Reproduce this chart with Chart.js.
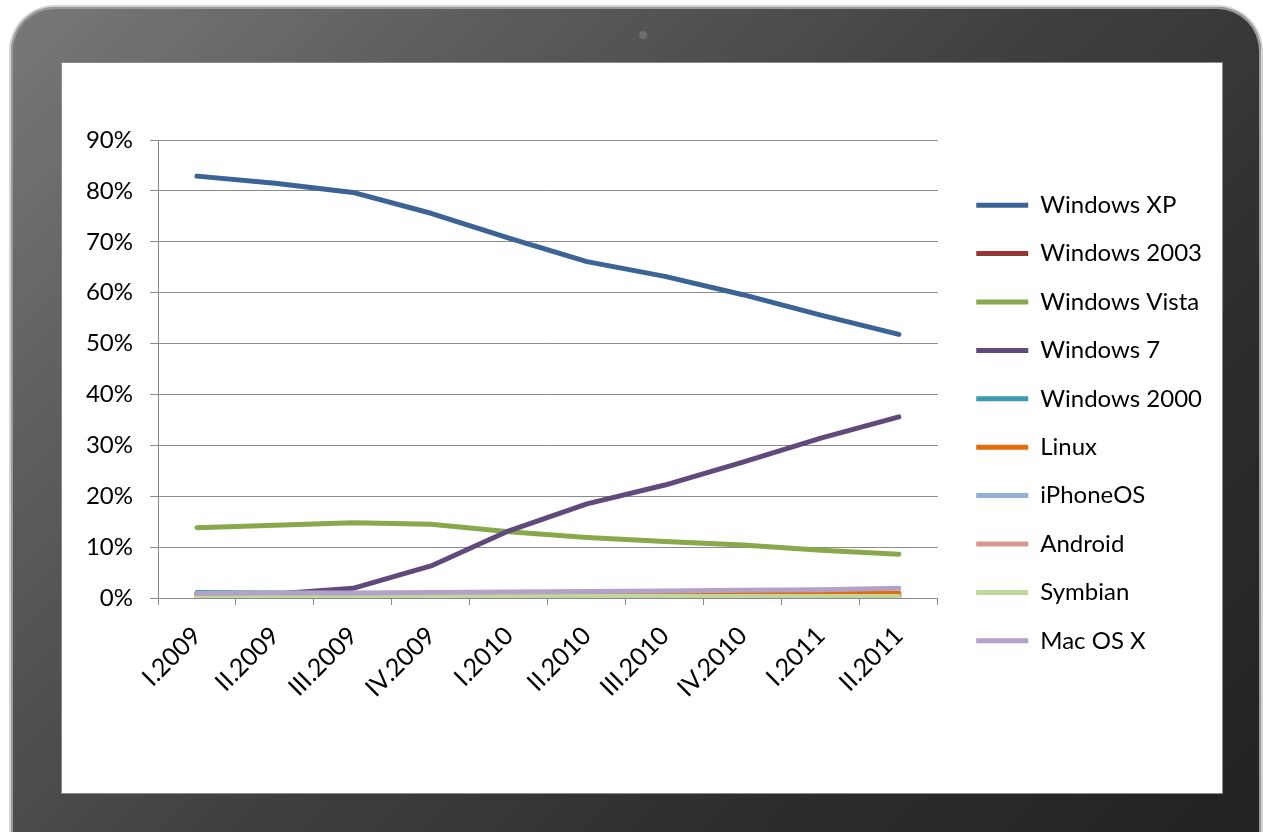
<!DOCTYPE html>
<html>
<head>
<meta charset="utf-8">
<script src="https://cdn.jsdelivr.net/npm/chart.js@4.4.1/dist/chart.umd.min.js"></script>
<style>
  html, body { margin:0; padding:0; background:#ffffff; width:1263px; height:832px; overflow:hidden; }
  #frame { position:absolute; left:11px; top:7px; width:1250px; height:900px; border-radius:44px;
    background: linear-gradient(135deg, #77797b 0%, #5b5d5f 22%, #3f4042 48%, #2c2d2f 72%, #1f2022 100%);
    box-shadow: 0 0 0 2px #d4d4d4, inset 0 0 0 2px #9a9a9a; }
  #cam { position:absolute; left:639px; top:31px; width:8px; height:8px; border-radius:50%; background:#6d6e70; }
  #screen { position:absolute; left:62px; top:63px; width:1160px; height:730px; background:#ffffff;
    box-shadow: 0 0 0 1px #8a8a8a; }
  #c { position:absolute; left:0; top:0; }
</style>
</head>
<body>
<div id="frame"></div>
<div id="cam"></div>
<div id="screen"><canvas id="c" width="1160" height="730"></canvas></div>
<script>
const categories = ['I.2009','II.2009','III.2009','IV.2009','I.2010','II.2010','III.2010','IV.2010','I.2011','II.2011'];
const yTickLabels = ['0%','10%','20%','30%','40%','50%','60%','70%','80%','90%'];

const windowsXP    = [82.9, 81.5, 79.7, 75.6, 70.7, 66.1, 63.2, 59.6, 55.6, 51.8];
const windows2003  = [0.9, 0.9, 0.8, 0.8, 0.7, 0.7, 0.6, 0.6, 0.5, 0.5];
const windowsVista = [13.8, 14.3, 14.8, 14.5, 13.0, 11.9, 11.1, 10.4, 9.4, 8.6];
const windows7     = [0.6, 0.8, 1.9, 6.3, 13.2, 18.5, 22.2, 26.7, 31.4, 35.6];
const windows2000  = [1.1, 1.0, 0.9, 0.8, 0.7, 0.6, 0.5, 0.5, 0.4, 0.4];
const linux        = [0.6, 0.6, 0.6, 0.7, 0.7, 0.7, 0.8, 0.8, 0.9, 1.0];
const iPhoneOS     = [0.1, 0.1, 0.1, 0.1, 0.1, 0.1, 0.1, 0.1, 0.1, 0.1];
const android      = [0.0, 0.0, 0.0, 0.0, 0.0, 0.1, 0.1, 0.1, 0.1, 0.1];
const symbian      = [0.3, 0.3, 0.3, 0.3, 0.3, 0.3, 0.3, 0.3, 0.3, 0.3];
const macOSX       = [0.9, 1.0, 1.0, 1.1, 1.2, 1.3, 1.4, 1.5, 1.6, 1.9];

const seriesNames  = ['Windows XP','Windows 2003','Windows Vista','Windows 7','Windows 2000','Linux','iPhoneOS','Android','Symbian','Mac OS X'];
const seriesValues = [windowsXP, windows2003, windowsVista, windows7, windows2000, linux, iPhoneOS, android, symbian, macOSX];
const seriesColors = ['#3b6396','#953835','#88a84c','#604a7b','#3d98b1','#e46c0a','#93b1d6','#d99593','#c3d69b','#b3a2c7'];

const FONT = 'Lato, "Open Sans", sans-serif';
const GRID = '#8a8a8a';

const datasets = seriesNames.map((name, i) => ({
  label: name,
  data: seriesValues[i],
  borderColor: seriesColors[i],
  backgroundColor: seriesColors[i],
  borderWidth: 5,
  borderCapStyle: 'round',
  borderJoinStyle: 'round',
  pointRadius: 0,
  pointHoverRadius: 0,
  tension: 0,
  fill: false,
  order: seriesNames.length - i
}));

new Chart(document.getElementById('c'), {
  type: 'line',
  data: { labels: categories, datasets },
  options: {
    responsive: false,
    animation: false,
    devicePixelRatio: 1,
    layout: { padding: { top: 77, bottom: 87, left: 0, right: 10 } },
    plugins: {
      tooltip: { enabled: false },
      legend: {
        position: 'right',
        maxWidth: 400,
        labels: {
          usePointStyle: true,
          pointStyle: 'line',
          pointStyleWidth: 52,
          padding: 24.4,
          color: '#000000',
          font: { family: FONT, size: 24 },
          sort: (a, b) => a.datasetIndex - b.datasetIndex
        }
      }
    },
    scales: {
      x: {
        offset: true,
        grid: { display: true, drawOnChartArea: false, offset: true, tickLength: 7, color: GRID },
        border: { color: GRID },
        ticks: { autoSkip: false, maxRotation: 45, minRotation: 45, padding: 16, color: '#000000',
                 font: { family: FONT, size: 25 } },
        afterFit: s => { s.height = 108; }
      },
      y: {
        min: 0, max: 90,
        grid: { color: GRID, tickLength: 8 },
        border: { color: GRID },
        ticks: { stepSize: 10, padding: 17, color: '#000000', font: { family: FONT, size: 24 },
                 callback: (v) => yTickLabels[Math.round(v / 10)] },
        afterFit: s => { s.width = 96; }
      },
      gap: {
        position: 'right', display: true,
        grid: { display: false, drawTicks: false }, border: { display: false },
        ticks: { display: false },
        afterFit: s => { s.width = 14; }
      }
    }
  }
});
</script>
</body>
</html>
